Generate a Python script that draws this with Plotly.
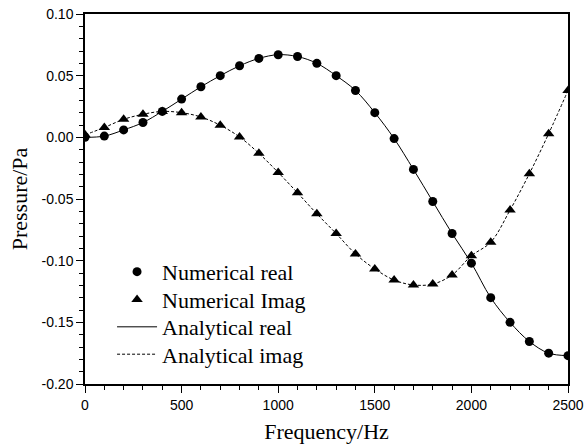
import plotly.graph_objects as go

# Frequency sweep (Hz)
freq = [0, 100, 200, 300, 400, 500, 600, 700, 800, 900, 1000, 1100, 1200,
        1300, 1400, 1500, 1600, 1700, 1800, 1900, 2000, 2100, 2200, 2300,
        2400, 2500]

# Numerical solution (Pa)
num_real = [0.000, 0.001, 0.006, 0.012, 0.021, 0.031, 0.041, 0.050, 0.058,
            0.064, 0.067, 0.0655, 0.060, 0.050, 0.038, 0.020, -0.001, -0.026,
            -0.052, -0.078, -0.102, -0.130, -0.150, -0.1655, -0.175, -0.177]
num_imag = [0.002, 0.008, 0.0146, 0.0187, 0.021, 0.020, 0.0165, 0.0098,
            0.0003, -0.013, -0.0285, -0.045, -0.062, -0.078, -0.0945,
            -0.1067, -0.1157, -0.1197, -0.119, -0.1116, -0.096, -0.085,
            -0.059, -0.0295, 0.003, 0.038]

# Analytical solution (Pa), same sampling
ana_real = num_real
ana_imag = num_imag

y_ticks = [-0.20, -0.15, -0.10, -0.05, 0.00, 0.05, 0.10]
y_tick_text = ["-0.20", "-0.15", "-0.10", "-0.05", "0.00", "0.05", "0.10"]
x_ticks = [0, 500, 1000, 1500, 2000, 2500]
x_tick_text = ["0", "500", "1000", "1500", "2000", "2500"]

SERIF = "Liberation Serif"
SANS = "Liberation Sans"

fig = go.Figure()
fig.add_trace(go.Scatter(
    x=freq, y=num_real, mode="markers", name="Numerical real", legend="legend",
    marker=dict(symbol="circle", size=9, color="black")))
fig.add_trace(go.Scatter(
    x=freq, y=num_imag, mode="markers", name="Numerical Imag", legend="legend2",
    marker=dict(symbol="triangle-up", size=10, color="black")))
fig.add_trace(go.Scatter(
    x=freq, y=ana_real, mode="lines", name="Analytical real", legend="legend3",
    line=dict(color="black", width=1, shape="spline")))
fig.add_trace(go.Scatter(
    x=freq, y=ana_imag, mode="lines", name="Analytical imag", legend="legend4",
    line=dict(color="black", width=1, dash="3px,2px", shape="spline")))

axis_common = dict(
    showline=True, linecolor="black", linewidth=1.5, mirror=True,
    showgrid=False, zeroline=False, ticks="outside", ticklen=7,
    tickwidth=1, tickcolor="black",
    tickfont=dict(family=SANS, size=14, color="black"),
)

fig.update_xaxes(
    range=[0, 2500], tickmode="array", tickvals=x_ticks, ticktext=x_tick_text,
    minor=dict(dtick=100, ticks="outside", ticklen=4, tickcolor="black"),
    title=dict(text="Frequency/Hz", font=dict(family=SERIF, size=22, color="black"),
               standoff=12),
    **axis_common)
fig.update_yaxes(
    range=[-0.20, 0.10], tickmode="array", tickvals=y_ticks, ticktext=y_tick_text,
    minor=dict(dtick=0.01, ticks="outside", ticklen=4, tickcolor="black"),
    title=dict(text="Pressure/Pa", font=dict(family=SERIF, size=22, color="black"),
               standoff=8),
    **axis_common)

# One legend box per entry so the rows sit at a fixed pitch
legend_style = dict(
    x=0.056, xanchor="left", yanchor="middle",
    bgcolor="rgba(0,0,0,0)", borderwidth=0,
    font=dict(family=SERIF, size=22, color="black"),
    itemwidth=40,
)
row_y = [0.303, 0.228, 0.154, 0.080]

fig.update_layout(
    width=584, height=447,
    margin=dict(l=85, r=16, t=14, b=63, autoexpand=False),
    paper_bgcolor="white", plot_bgcolor="white",
    showlegend=True,
    legend=dict(y=row_y[0], **legend_style),
    legend2=dict(y=row_y[1], **legend_style),
    legend3=dict(y=row_y[2], **legend_style),
    legend4=dict(y=row_y[3], **legend_style),
)

fig.write_html("out.html")
